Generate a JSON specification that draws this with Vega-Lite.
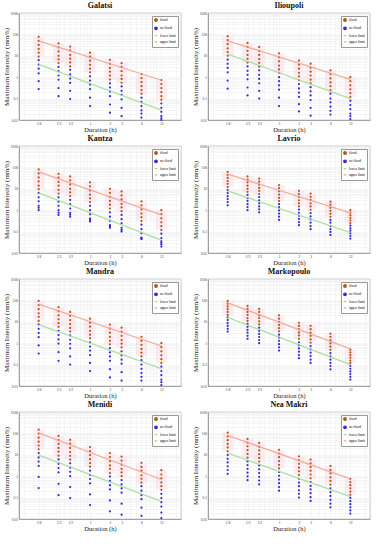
{
"$schema":"https://vega.github.io/schema/vega-lite/v6.json",
"background":"white",
"padding":{"left":2,"top":1,"right":2,"bottom":0},
"data":{"values":[
{"s":"Galatsi","d":0.1667,"v":77,"c":"f"},{"s":"Galatsi","d":0.1667,"v":50,"c":"f"},{"s":"Galatsi","d":0.1667,"v":32,"c":"f"},{"s":"Galatsi","d":0.1667,"v":21,"c":"f"},{"s":"Galatsi","d":0.1667,"v":14,"c":"f"},{"s":"Galatsi","d":0.1667,"v":9.2,"c":"f"},{"s":"Galatsi","d":0.1667,"v":6.2,"c":"n"},{"s":"Galatsi","d":0.1667,"v":3.9,"c":"n"},{"s":"Galatsi","d":0.1667,"v":2.5,"c":"n"},{"s":"Galatsi","d":0.1667,"v":1.5,"c":"n"},{"s":"Galatsi","d":0.1667,"v":0.65,"c":"n"},{"s":"Galatsi","d":0.1667,"v":0.28,"c":"n"},
{"s":"Galatsi","d":0.3333,"v":38,"c":"f"},{"s":"Galatsi","d":0.3333,"v":25,"c":"f"},{"s":"Galatsi","d":0.3333,"v":16,"c":"f"},{"s":"Galatsi","d":0.3333,"v":10,"c":"f"},{"s":"Galatsi","d":0.3333,"v":6.8,"c":"f"},{"s":"Galatsi","d":0.3333,"v":4.6,"c":"f"},{"s":"Galatsi","d":0.3333,"v":3.0,"c":"n"},{"s":"Galatsi","d":0.3333,"v":1.9,"c":"n"},{"s":"Galatsi","d":0.3333,"v":1.2,"c":"n"},{"s":"Galatsi","d":0.3333,"v":0.76,"c":"n"},{"s":"Galatsi","d":0.3333,"v":0.31,"c":"n"},{"s":"Galatsi","d":0.3333,"v":0.13,"c":"n"},
{"s":"Galatsi","d":0.5,"v":27,"c":"f"},{"s":"Galatsi","d":0.5,"v":18,"c":"f"},{"s":"Galatsi","d":0.5,"v":11,"c":"f"},{"s":"Galatsi","d":0.5,"v":7.3,"c":"f"},{"s":"Galatsi","d":0.5,"v":4.9,"c":"f"},{"s":"Galatsi","d":0.5,"v":3.2,"c":"f"},{"s":"Galatsi","d":0.5,"v":2.2,"c":"n"},{"s":"Galatsi","d":0.5,"v":1.35,"c":"n"},{"s":"Galatsi","d":0.5,"v":0.86,"c":"n"},{"s":"Galatsi","d":0.5,"v":0.54,"c":"n"},{"s":"Galatsi","d":0.5,"v":0.23,"c":"n"},{"s":"Galatsi","d":0.5,"v":0.095,"c":"n"},
{"s":"Galatsi","d":1,"v":14,"c":"f"},{"s":"Galatsi","d":1,"v":9.1,"c":"f"},{"s":"Galatsi","d":1,"v":5.9,"c":"f"},{"s":"Galatsi","d":1,"v":3.8,"c":"f"},{"s":"Galatsi","d":1,"v":2.5,"c":"f"},{"s":"Galatsi","d":1,"v":1.7,"c":"f"},{"s":"Galatsi","d":1,"v":1.1,"c":"n"},{"s":"Galatsi","d":1,"v":0.7,"c":"n"},{"s":"Galatsi","d":1,"v":0.45,"c":"n"},{"s":"Galatsi","d":1,"v":0.28,"c":"n"},{"s":"Galatsi","d":1,"v":0.11,"c":"n"},{"s":"Galatsi","d":1,"v":0.045,"c":"n"},
{"s":"Galatsi","d":2,"v":6.5,"c":"f"},{"s":"Galatsi","d":2,"v":4.2,"c":"f"},{"s":"Galatsi","d":2,"v":2.7,"c":"f"},{"s":"Galatsi","d":2,"v":1.8,"c":"f"},{"s":"Galatsi","d":2,"v":1.2,"c":"f"},{"s":"Galatsi","d":2,"v":0.78,"c":"f"},{"s":"Galatsi","d":2,"v":0.52,"c":"n"},{"s":"Galatsi","d":2,"v":0.33,"c":"n"},{"s":"Galatsi","d":2,"v":0.21,"c":"n"},{"s":"Galatsi","d":2,"v":0.13,"c":"n"},{"s":"Galatsi","d":2,"v":0.053,"c":"n"},{"s":"Galatsi","d":2,"v":0.022,"c":"n"},
{"s":"Galatsi","d":3,"v":4.6,"c":"f"},{"s":"Galatsi","d":3,"v":3.0,"c":"f"},{"s":"Galatsi","d":3,"v":1.9,"c":"f"},{"s":"Galatsi","d":3,"v":1.2,"c":"f"},{"s":"Galatsi","d":3,"v":0.83,"c":"f"},{"s":"Galatsi","d":3,"v":0.55,"c":"f"},{"s":"Galatsi","d":3,"v":0.37,"c":"n"},{"s":"Galatsi","d":3,"v":0.23,"c":"n"},{"s":"Galatsi","d":3,"v":0.15,"c":"n"},{"s":"Galatsi","d":3,"v":0.092,"c":"n"},{"s":"Galatsi","d":3,"v":0.037,"c":"n"},{"s":"Galatsi","d":3,"v":0.015,"c":"n"},
{"s":"Galatsi","d":6,"v":1.4,"c":"f"},{"s":"Galatsi","d":6,"v":0.91,"c":"f"},{"s":"Galatsi","d":6,"v":0.59,"c":"f"},{"s":"Galatsi","d":6,"v":0.38,"c":"f"},{"s":"Galatsi","d":6,"v":0.25,"c":"f"},{"s":"Galatsi","d":6,"v":0.17,"c":"f"},{"s":"Galatsi","d":6,"v":0.11,"c":"n"},{"s":"Galatsi","d":6,"v":0.07,"c":"n"},{"s":"Galatsi","d":6,"v":0.045,"c":"n"},{"s":"Galatsi","d":6,"v":0.028,"c":"n"},{"s":"Galatsi","d":6,"v":0.02,"c":"n"},{"s":"Galatsi","d":6,"v":0.013,"c":"n"},
{"s":"Galatsi","d":12,"v":0.74,"c":"f"},{"s":"Galatsi","d":12,"v":0.48,"c":"f"},{"s":"Galatsi","d":12,"v":0.31,"c":"f"},{"s":"Galatsi","d":12,"v":0.2,"c":"f"},{"s":"Galatsi","d":12,"v":0.13,"c":"f"},{"s":"Galatsi","d":12,"v":0.089,"c":"f"},{"s":"Galatsi","d":12,"v":0.059,"c":"n"},{"s":"Galatsi","d":12,"v":0.037,"c":"n"},{"s":"Galatsi","d":12,"v":0.024,"c":"n"},{"s":"Galatsi","d":12,"v":0.015,"c":"n"},{"s":"Galatsi","d":12,"v":0.012,"c":"n"},{"s":"Galatsi","d":12,"v":0.01,"c":"n"},
{"s":"Ilioupoli","d":0.1667,"v":83,"c":"f"},{"s":"Ilioupoli","d":0.1667,"v":54,"c":"f"},{"s":"Ilioupoli","d":0.1667,"v":35,"c":"f"},{"s":"Ilioupoli","d":0.1667,"v":22,"c":"f"},{"s":"Ilioupoli","d":0.1667,"v":15,"c":"f"},{"s":"Ilioupoli","d":0.1667,"v":10,"c":"f"},{"s":"Ilioupoli","d":0.1667,"v":6.6,"c":"n"},{"s":"Ilioupoli","d":0.1667,"v":4.2,"c":"n"},{"s":"Ilioupoli","d":0.1667,"v":2.7,"c":"n"},{"s":"Ilioupoli","d":0.1667,"v":1.7,"c":"n"},{"s":"Ilioupoli","d":0.1667,"v":0.7,"c":"n"},{"s":"Ilioupoli","d":0.1667,"v":0.29,"c":"n"},
{"s":"Ilioupoli","d":0.3333,"v":40,"c":"f"},{"s":"Ilioupoli","d":0.3333,"v":26,"c":"f"},{"s":"Ilioupoli","d":0.3333,"v":17,"c":"f"},{"s":"Ilioupoli","d":0.3333,"v":11,"c":"f"},{"s":"Ilioupoli","d":0.3333,"v":7.2,"c":"f"},{"s":"Ilioupoli","d":0.3333,"v":4.8,"c":"f"},{"s":"Ilioupoli","d":0.3333,"v":3.2,"c":"n"},{"s":"Ilioupoli","d":0.3333,"v":2.0,"c":"n"},{"s":"Ilioupoli","d":0.3333,"v":1.3,"c":"n"},{"s":"Ilioupoli","d":0.3333,"v":0.8,"c":"n"},{"s":"Ilioupoli","d":0.3333,"v":0.33,"c":"n"},{"s":"Ilioupoli","d":0.3333,"v":0.14,"c":"n"},
{"s":"Ilioupoli","d":0.5,"v":26,"c":"f"},{"s":"Ilioupoli","d":0.5,"v":17,"c":"f"},{"s":"Ilioupoli","d":0.5,"v":11,"c":"f"},{"s":"Ilioupoli","d":0.5,"v":7.0,"c":"f"},{"s":"Ilioupoli","d":0.5,"v":4.7,"c":"f"},{"s":"Ilioupoli","d":0.5,"v":3.1,"c":"f"},{"s":"Ilioupoli","d":0.5,"v":2.1,"c":"n"},{"s":"Ilioupoli","d":0.5,"v":1.3,"c":"n"},{"s":"Ilioupoli","d":0.5,"v":0.83,"c":"n"},{"s":"Ilioupoli","d":0.5,"v":0.52,"c":"n"},{"s":"Ilioupoli","d":0.5,"v":0.23,"c":"n"},{"s":"Ilioupoli","d":0.5,"v":0.1,"c":"n"},
{"s":"Ilioupoli","d":1,"v":13,"c":"f"},{"s":"Ilioupoli","d":1,"v":8.5,"c":"f"},{"s":"Ilioupoli","d":1,"v":5.5,"c":"f"},{"s":"Ilioupoli","d":1,"v":3.5,"c":"f"},{"s":"Ilioupoli","d":1,"v":2.3,"c":"f"},{"s":"Ilioupoli","d":1,"v":1.6,"c":"f"},{"s":"Ilioupoli","d":1,"v":1.0,"c":"n"},{"s":"Ilioupoli","d":1,"v":0.65,"c":"n"},{"s":"Ilioupoli","d":1,"v":0.42,"c":"n"},{"s":"Ilioupoli","d":1,"v":0.26,"c":"n"},{"s":"Ilioupoli","d":1,"v":0.11,"c":"n"},{"s":"Ilioupoli","d":1,"v":0.045,"c":"n"},
{"s":"Ilioupoli","d":2,"v":6,"c":"f"},{"s":"Ilioupoli","d":2,"v":3.9,"c":"f"},{"s":"Ilioupoli","d":2,"v":2.5,"c":"f"},{"s":"Ilioupoli","d":2,"v":1.6,"c":"f"},{"s":"Ilioupoli","d":2,"v":1.1,"c":"f"},{"s":"Ilioupoli","d":2,"v":0.72,"c":"f"},{"s":"Ilioupoli","d":2,"v":0.48,"c":"n"},{"s":"Ilioupoli","d":2,"v":0.3,"c":"n"},{"s":"Ilioupoli","d":2,"v":0.19,"c":"n"},{"s":"Ilioupoli","d":2,"v":0.12,"c":"n"},{"s":"Ilioupoli","d":2,"v":0.055,"c":"n"},{"s":"Ilioupoli","d":2,"v":0.025,"c":"n"},
{"s":"Ilioupoli","d":3,"v":4.3,"c":"f"},{"s":"Ilioupoli","d":3,"v":2.8,"c":"f"},{"s":"Ilioupoli","d":3,"v":1.8,"c":"f"},{"s":"Ilioupoli","d":3,"v":1.2,"c":"f"},{"s":"Ilioupoli","d":3,"v":0.77,"c":"f"},{"s":"Ilioupoli","d":3,"v":0.52,"c":"f"},{"s":"Ilioupoli","d":3,"v":0.34,"c":"n"},{"s":"Ilioupoli","d":3,"v":0.22,"c":"n"},{"s":"Ilioupoli","d":3,"v":0.14,"c":"n"},{"s":"Ilioupoli","d":3,"v":0.086,"c":"n"},{"s":"Ilioupoli","d":3,"v":0.037,"c":"n"},{"s":"Ilioupoli","d":3,"v":0.016,"c":"n"},
{"s":"Ilioupoli","d":6,"v":2.1,"c":"f"},{"s":"Ilioupoli","d":6,"v":1.4,"c":"f"},{"s":"Ilioupoli","d":6,"v":0.88,"c":"f"},{"s":"Ilioupoli","d":6,"v":0.57,"c":"f"},{"s":"Ilioupoli","d":6,"v":0.38,"c":"f"},{"s":"Ilioupoli","d":6,"v":0.25,"c":"f"},{"s":"Ilioupoli","d":6,"v":0.17,"c":"n"},{"s":"Ilioupoli","d":6,"v":0.1,"c":"n"},{"s":"Ilioupoli","d":6,"v":0.067,"c":"n"},{"s":"Ilioupoli","d":6,"v":0.042,"c":"n"},{"s":"Ilioupoli","d":6,"v":0.027,"c":"n"},{"s":"Ilioupoli","d":6,"v":0.018,"c":"n"},
{"s":"Ilioupoli","d":12,"v":1.0,"c":"f"},{"s":"Ilioupoli","d":12,"v":0.65,"c":"f"},{"s":"Ilioupoli","d":12,"v":0.42,"c":"f"},{"s":"Ilioupoli","d":12,"v":0.27,"c":"f"},{"s":"Ilioupoli","d":12,"v":0.18,"c":"f"},{"s":"Ilioupoli","d":12,"v":0.12,"c":"f"},{"s":"Ilioupoli","d":12,"v":0.08,"c":"n"},{"s":"Ilioupoli","d":12,"v":0.05,"c":"n"},{"s":"Ilioupoli","d":12,"v":0.032,"c":"n"},{"s":"Ilioupoli","d":12,"v":0.02,"c":"n"},{"s":"Ilioupoli","d":12,"v":0.015,"c":"n"},{"s":"Ilioupoli","d":12,"v":0.011,"c":"n"},
{"s":"Kantza","d":0.1667,"v":80,"c":"f"},{"s":"Kantza","d":0.1667,"v":52,"c":"f"},{"s":"Kantza","d":0.1667,"v":34,"c":"f"},{"s":"Kantza","d":0.1667,"v":22,"c":"f"},{"s":"Kantza","d":0.1667,"v":14,"c":"f"},{"s":"Kantza","d":0.1667,"v":9.6,"c":"f"},{"s":"Kantza","d":0.1667,"v":6.4,"c":"n"},{"s":"Kantza","d":0.1667,"v":4.0,"c":"n"},{"s":"Kantza","d":0.1667,"v":2.6,"c":"n"},{"s":"Kantza","d":0.1667,"v":1.6,"c":"n"},{"s":"Kantza","d":0.1667,"v":1.3,"c":"n"},{"s":"Kantza","d":0.1667,"v":1.0,"c":"n"},
{"s":"Kantza","d":0.3333,"v":50,"c":"f"},{"s":"Kantza","d":0.3333,"v":33,"c":"f"},{"s":"Kantza","d":0.3333,"v":21,"c":"f"},{"s":"Kantza","d":0.3333,"v":14,"c":"f"},{"s":"Kantza","d":0.3333,"v":9,"c":"f"},{"s":"Kantza","d":0.3333,"v":6,"c":"f"},{"s":"Kantza","d":0.3333,"v":4,"c":"n"},{"s":"Kantza","d":0.3333,"v":2.5,"c":"n"},{"s":"Kantza","d":0.3333,"v":1.6,"c":"n"},{"s":"Kantza","d":0.3333,"v":1.0,"c":"n"},{"s":"Kantza","d":0.3333,"v":0.77,"c":"n"},{"s":"Kantza","d":0.3333,"v":0.6,"c":"n"},
{"s":"Kantza","d":0.5,"v":38,"c":"f"},{"s":"Kantza","d":0.5,"v":25,"c":"f"},{"s":"Kantza","d":0.5,"v":16,"c":"f"},{"s":"Kantza","d":0.5,"v":10,"c":"f"},{"s":"Kantza","d":0.5,"v":6.8,"c":"f"},{"s":"Kantza","d":0.5,"v":4.6,"c":"f"},{"s":"Kantza","d":0.5,"v":3.0,"c":"n"},{"s":"Kantza","d":0.5,"v":1.9,"c":"n"},{"s":"Kantza","d":0.5,"v":1.2,"c":"n"},{"s":"Kantza","d":0.5,"v":0.76,"c":"n"},{"s":"Kantza","d":0.5,"v":0.62,"c":"n"},{"s":"Kantza","d":0.5,"v":0.5,"c":"n"},
{"s":"Kantza","d":1,"v":20,"c":"f"},{"s":"Kantza","d":1,"v":13,"c":"f"},{"s":"Kantza","d":1,"v":8.4,"c":"f"},{"s":"Kantza","d":1,"v":5.4,"c":"f"},{"s":"Kantza","d":1,"v":3.6,"c":"f"},{"s":"Kantza","d":1,"v":2.4,"c":"f"},{"s":"Kantza","d":1,"v":1.6,"c":"n"},{"s":"Kantza","d":1,"v":1.0,"c":"n"},{"s":"Kantza","d":1,"v":0.64,"c":"n"},{"s":"Kantza","d":1,"v":0.4,"c":"n"},{"s":"Kantza","d":1,"v":0.35,"c":"n"},{"s":"Kantza","d":1,"v":0.3,"c":"n"},
{"s":"Kantza","d":2,"v":10,"c":"f"},{"s":"Kantza","d":2,"v":6.5,"c":"f"},{"s":"Kantza","d":2,"v":4.2,"c":"f"},{"s":"Kantza","d":2,"v":2.7,"c":"f"},{"s":"Kantza","d":2,"v":1.8,"c":"f"},{"s":"Kantza","d":2,"v":1.2,"c":"f"},{"s":"Kantza","d":2,"v":0.8,"c":"n"},{"s":"Kantza","d":2,"v":0.5,"c":"n"},{"s":"Kantza","d":2,"v":0.32,"c":"n"},{"s":"Kantza","d":2,"v":0.2,"c":"n"},{"s":"Kantza","d":2,"v":0.17,"c":"n"},{"s":"Kantza","d":2,"v":0.15,"c":"n"},
{"s":"Kantza","d":3,"v":7.5,"c":"f"},{"s":"Kantza","d":3,"v":4.9,"c":"f"},{"s":"Kantza","d":3,"v":3.2,"c":"f"},{"s":"Kantza","d":3,"v":2.0,"c":"f"},{"s":"Kantza","d":3,"v":1.35,"c":"f"},{"s":"Kantza","d":3,"v":0.9,"c":"f"},{"s":"Kantza","d":3,"v":0.6,"c":"n"},{"s":"Kantza","d":3,"v":0.38,"c":"n"},{"s":"Kantza","d":3,"v":0.24,"c":"n"},{"s":"Kantza","d":3,"v":0.15,"c":"n"},{"s":"Kantza","d":3,"v":0.12,"c":"n"},{"s":"Kantza","d":3,"v":0.1,"c":"n"},
{"s":"Kantza","d":6,"v":2.6,"c":"f"},{"s":"Kantza","d":6,"v":1.7,"c":"f"},{"s":"Kantza","d":6,"v":1.1,"c":"f"},{"s":"Kantza","d":6,"v":0.7,"c":"f"},{"s":"Kantza","d":6,"v":0.47,"c":"f"},{"s":"Kantza","d":6,"v":0.31,"c":"f"},{"s":"Kantza","d":6,"v":0.21,"c":"n"},{"s":"Kantza","d":6,"v":0.13,"c":"n"},{"s":"Kantza","d":6,"v":0.083,"c":"n"},{"s":"Kantza","d":6,"v":0.052,"c":"n"},{"s":"Kantza","d":6,"v":0.048,"c":"n"},{"s":"Kantza","d":6,"v":0.045,"c":"n"},
{"s":"Kantza","d":12,"v":1.0,"c":"f"},{"s":"Kantza","d":12,"v":0.65,"c":"f"},{"s":"Kantza","d":12,"v":0.42,"c":"f"},{"s":"Kantza","d":12,"v":0.27,"c":"f"},{"s":"Kantza","d":12,"v":0.18,"c":"f"},{"s":"Kantza","d":12,"v":0.12,"c":"f"},{"s":"Kantza","d":12,"v":0.08,"c":"n"},{"s":"Kantza","d":12,"v":0.05,"c":"n"},{"s":"Kantza","d":12,"v":0.036,"c":"n"},{"s":"Kantza","d":12,"v":0.03,"c":"n"},{"s":"Kantza","d":12,"v":0.025,"c":"n"},{"s":"Kantza","d":12,"v":0.02,"c":"n"},
{"s":"Lavrio","d":0.1667,"v":62,"c":"f"},{"s":"Lavrio","d":0.1667,"v":45,"c":"f"},{"s":"Lavrio","d":0.1667,"v":32,"c":"f"},{"s":"Lavrio","d":0.1667,"v":23,"c":"f"},{"s":"Lavrio","d":0.1667,"v":17,"c":"f"},{"s":"Lavrio","d":0.1667,"v":12,"c":"f"},{"s":"Lavrio","d":0.1667,"v":8.7,"c":"n"},{"s":"Lavrio","d":0.1667,"v":6.3,"c":"n"},{"s":"Lavrio","d":0.1667,"v":4.5,"c":"n"},{"s":"Lavrio","d":0.1667,"v":3.3,"c":"n"},{"s":"Lavrio","d":0.1667,"v":2.4,"c":"n"},{"s":"Lavrio","d":0.1667,"v":1.7,"c":"n"},
{"s":"Lavrio","d":0.3333,"v":38,"c":"f"},{"s":"Lavrio","d":0.3333,"v":27,"c":"f"},{"s":"Lavrio","d":0.3333,"v":20,"c":"f"},{"s":"Lavrio","d":0.3333,"v":14,"c":"f"},{"s":"Lavrio","d":0.3333,"v":10,"c":"f"},{"s":"Lavrio","d":0.3333,"v":7.2,"c":"f"},{"s":"Lavrio","d":0.3333,"v":5.2,"c":"n"},{"s":"Lavrio","d":0.3333,"v":3.7,"c":"n"},{"s":"Lavrio","d":0.3333,"v":2.7,"c":"n"},{"s":"Lavrio","d":0.3333,"v":1.9,"c":"n"},{"s":"Lavrio","d":0.3333,"v":1.4,"c":"n"},{"s":"Lavrio","d":0.3333,"v":1.0,"c":"n"},
{"s":"Lavrio","d":0.5,"v":30,"c":"f"},{"s":"Lavrio","d":0.5,"v":21.5,"c":"f"},{"s":"Lavrio","d":0.5,"v":15.5,"c":"f"},{"s":"Lavrio","d":0.5,"v":11,"c":"f"},{"s":"Lavrio","d":0.5,"v":8,"c":"f"},{"s":"Lavrio","d":0.5,"v":5.7,"c":"f"},{"s":"Lavrio","d":0.5,"v":4.1,"c":"n"},{"s":"Lavrio","d":0.5,"v":2.9,"c":"n"},{"s":"Lavrio","d":0.5,"v":2.1,"c":"n"},{"s":"Lavrio","d":0.5,"v":1.5,"c":"n"},{"s":"Lavrio","d":0.5,"v":1.1,"c":"n"},{"s":"Lavrio","d":0.5,"v":0.8,"c":"n"},
{"s":"Lavrio","d":1,"v":15,"c":"f"},{"s":"Lavrio","d":1,"v":10.7,"c":"f"},{"s":"Lavrio","d":1,"v":7.6,"c":"f"},{"s":"Lavrio","d":1,"v":5.4,"c":"f"},{"s":"Lavrio","d":1,"v":3.8,"c":"f"},{"s":"Lavrio","d":1,"v":2.7,"c":"f"},{"s":"Lavrio","d":1,"v":1.9,"c":"n"},{"s":"Lavrio","d":1,"v":1.4,"c":"n"},{"s":"Lavrio","d":1,"v":0.98,"c":"n"},{"s":"Lavrio","d":1,"v":0.7,"c":"n"},{"s":"Lavrio","d":1,"v":0.5,"c":"n"},{"s":"Lavrio","d":1,"v":0.35,"c":"n"},
{"s":"Lavrio","d":2,"v":8,"c":"f"},{"s":"Lavrio","d":2,"v":5.7,"c":"f"},{"s":"Lavrio","d":2,"v":4.1,"c":"f"},{"s":"Lavrio","d":2,"v":2.9,"c":"f"},{"s":"Lavrio","d":2,"v":2.1,"c":"f"},{"s":"Lavrio","d":2,"v":1.5,"c":"f"},{"s":"Lavrio","d":2,"v":1.07,"c":"n"},{"s":"Lavrio","d":2,"v":0.76,"c":"n"},{"s":"Lavrio","d":2,"v":0.55,"c":"n"},{"s":"Lavrio","d":2,"v":0.39,"c":"n"},{"s":"Lavrio","d":2,"v":0.28,"c":"n"},{"s":"Lavrio","d":2,"v":0.2,"c":"n"},
{"s":"Lavrio","d":3,"v":6,"c":"f"},{"s":"Lavrio","d":3,"v":4.2,"c":"f"},{"s":"Lavrio","d":3,"v":3.0,"c":"f"},{"s":"Lavrio","d":3,"v":2.1,"c":"f"},{"s":"Lavrio","d":3,"v":1.5,"c":"f"},{"s":"Lavrio","d":3,"v":1.05,"c":"f"},{"s":"Lavrio","d":3,"v":0.74,"c":"n"},{"s":"Lavrio","d":3,"v":0.52,"c":"n"},{"s":"Lavrio","d":3,"v":0.37,"c":"n"},{"s":"Lavrio","d":3,"v":0.26,"c":"n"},{"s":"Lavrio","d":3,"v":0.18,"c":"n"},{"s":"Lavrio","d":3,"v":0.13,"c":"n"},
{"s":"Lavrio","d":6,"v":2.5,"c":"f"},{"s":"Lavrio","d":6,"v":1.8,"c":"f"},{"s":"Lavrio","d":6,"v":1.3,"c":"f"},{"s":"Lavrio","d":6,"v":0.94,"c":"f"},{"s":"Lavrio","d":6,"v":0.68,"c":"f"},{"s":"Lavrio","d":6,"v":0.49,"c":"f"},{"s":"Lavrio","d":6,"v":0.35,"c":"n"},{"s":"Lavrio","d":6,"v":0.26,"c":"n"},{"s":"Lavrio","d":6,"v":0.18,"c":"n"},{"s":"Lavrio","d":6,"v":0.13,"c":"n"},{"s":"Lavrio","d":6,"v":0.097,"c":"n"},{"s":"Lavrio","d":6,"v":0.07,"c":"n"},
{"s":"Lavrio","d":12,"v":1.0,"c":"f"},{"s":"Lavrio","d":12,"v":0.76,"c":"f"},{"s":"Lavrio","d":12,"v":0.57,"c":"f"},{"s":"Lavrio","d":12,"v":0.43,"c":"f"},{"s":"Lavrio","d":12,"v":0.33,"c":"f"},{"s":"Lavrio","d":12,"v":0.25,"c":"f"},{"s":"Lavrio","d":12,"v":0.19,"c":"n"},{"s":"Lavrio","d":12,"v":0.14,"c":"n"},{"s":"Lavrio","d":12,"v":0.11,"c":"n"},{"s":"Lavrio","d":12,"v":0.082,"c":"n"},{"s":"Lavrio","d":12,"v":0.062,"c":"n"},{"s":"Lavrio","d":12,"v":0.047,"c":"n"},
{"s":"Mandra","d":0.1667,"v":94,"c":"f"},{"s":"Mandra","d":0.1667,"v":61,"c":"f"},{"s":"Mandra","d":0.1667,"v":39,"c":"f"},{"s":"Mandra","d":0.1667,"v":25,"c":"f"},{"s":"Mandra","d":0.1667,"v":17,"c":"f"},{"s":"Mandra","d":0.1667,"v":11,"c":"f"},{"s":"Mandra","d":0.1667,"v":7.5,"c":"n"},{"s":"Mandra","d":0.1667,"v":4.7,"c":"n"},{"s":"Mandra","d":0.1667,"v":3.0,"c":"n"},{"s":"Mandra","d":0.1667,"v":1.9,"c":"n"},{"s":"Mandra","d":0.1667,"v":0.79,"c":"n"},{"s":"Mandra","d":0.1667,"v":0.33,"c":"n"},
{"s":"Mandra","d":0.3333,"v":48,"c":"f"},{"s":"Mandra","d":0.3333,"v":31,"c":"f"},{"s":"Mandra","d":0.3333,"v":20,"c":"f"},{"s":"Mandra","d":0.3333,"v":13,"c":"f"},{"s":"Mandra","d":0.3333,"v":8.6,"c":"f"},{"s":"Mandra","d":0.3333,"v":5.8,"c":"f"},{"s":"Mandra","d":0.3333,"v":3.8,"c":"n"},{"s":"Mandra","d":0.3333,"v":2.4,"c":"n"},{"s":"Mandra","d":0.3333,"v":1.5,"c":"n"},{"s":"Mandra","d":0.3333,"v":0.96,"c":"n"},{"s":"Mandra","d":0.3333,"v":0.38,"c":"n"},{"s":"Mandra","d":0.3333,"v":0.15,"c":"n"},
{"s":"Mandra","d":0.5,"v":29,"c":"f"},{"s":"Mandra","d":0.5,"v":19,"c":"f"},{"s":"Mandra","d":0.5,"v":12,"c":"f"},{"s":"Mandra","d":0.5,"v":7.8,"c":"f"},{"s":"Mandra","d":0.5,"v":5.2,"c":"f"},{"s":"Mandra","d":0.5,"v":3.5,"c":"f"},{"s":"Mandra","d":0.5,"v":2.3,"c":"n"},{"s":"Mandra","d":0.5,"v":1.45,"c":"n"},{"s":"Mandra","d":0.5,"v":0.93,"c":"n"},{"s":"Mandra","d":0.5,"v":0.58,"c":"n"},{"s":"Mandra","d":0.5,"v":0.24,"c":"n"},{"s":"Mandra","d":0.5,"v":0.1,"c":"n"},
{"s":"Mandra","d":1,"v":14,"c":"f"},{"s":"Mandra","d":1,"v":9.1,"c":"f"},{"s":"Mandra","d":1,"v":5.9,"c":"f"},{"s":"Mandra","d":1,"v":3.8,"c":"f"},{"s":"Mandra","d":1,"v":2.5,"c":"f"},{"s":"Mandra","d":1,"v":1.7,"c":"f"},{"s":"Mandra","d":1,"v":1.1,"c":"n"},{"s":"Mandra","d":1,"v":0.7,"c":"n"},{"s":"Mandra","d":1,"v":0.45,"c":"n"},{"s":"Mandra","d":1,"v":0.28,"c":"n"},{"s":"Mandra","d":1,"v":0.12,"c":"n"},{"s":"Mandra","d":1,"v":0.05,"c":"n"},
{"s":"Mandra","d":2,"v":7.4,"c":"f"},{"s":"Mandra","d":2,"v":4.8,"c":"f"},{"s":"Mandra","d":2,"v":3.1,"c":"f"},{"s":"Mandra","d":2,"v":2.0,"c":"f"},{"s":"Mandra","d":2,"v":1.3,"c":"f"},{"s":"Mandra","d":2,"v":0.89,"c":"f"},{"s":"Mandra","d":2,"v":0.59,"c":"n"},{"s":"Mandra","d":2,"v":0.37,"c":"n"},{"s":"Mandra","d":2,"v":0.24,"c":"n"},{"s":"Mandra","d":2,"v":0.15,"c":"n"},{"s":"Mandra","d":2,"v":0.061,"c":"n"},{"s":"Mandra","d":2,"v":0.025,"c":"n"},
{"s":"Mandra","d":3,"v":5.3,"c":"f"},{"s":"Mandra","d":3,"v":3.4,"c":"f"},{"s":"Mandra","d":3,"v":2.2,"c":"f"},{"s":"Mandra","d":3,"v":1.4,"c":"f"},{"s":"Mandra","d":3,"v":0.95,"c":"f"},{"s":"Mandra","d":3,"v":0.64,"c":"f"},{"s":"Mandra","d":3,"v":0.42,"c":"n"},{"s":"Mandra","d":3,"v":0.27,"c":"n"},{"s":"Mandra","d":3,"v":0.17,"c":"n"},{"s":"Mandra","d":3,"v":0.11,"c":"n"},{"s":"Mandra","d":3,"v":0.044,"c":"n"},{"s":"Mandra","d":3,"v":0.018,"c":"n"},
{"s":"Mandra","d":6,"v":2.0,"c":"f"},{"s":"Mandra","d":6,"v":1.3,"c":"f"},{"s":"Mandra","d":6,"v":0.84,"c":"f"},{"s":"Mandra","d":6,"v":0.54,"c":"f"},{"s":"Mandra","d":6,"v":0.36,"c":"f"},{"s":"Mandra","d":6,"v":0.24,"c":"f"},{"s":"Mandra","d":6,"v":0.16,"c":"n"},{"s":"Mandra","d":6,"v":0.1,"c":"n"},{"s":"Mandra","d":6,"v":0.064,"c":"n"},{"s":"Mandra","d":6,"v":0.04,"c":"n"},{"s":"Mandra","d":6,"v":0.027,"c":"n"},{"s":"Mandra","d":6,"v":0.018,"c":"n"},
{"s":"Mandra","d":12,"v":1.0,"c":"f"},{"s":"Mandra","d":12,"v":0.65,"c":"f"},{"s":"Mandra","d":12,"v":0.42,"c":"f"},{"s":"Mandra","d":12,"v":0.27,"c":"f"},{"s":"Mandra","d":12,"v":0.18,"c":"f"},{"s":"Mandra","d":12,"v":0.12,"c":"f"},{"s":"Mandra","d":12,"v":0.08,"c":"n"},{"s":"Mandra","d":12,"v":0.05,"c":"n"},{"s":"Mandra","d":12,"v":0.032,"c":"n"},{"s":"Mandra","d":12,"v":0.02,"c":"n"},{"s":"Mandra","d":12,"v":0.015,"c":"n"},{"s":"Mandra","d":12,"v":0.011,"c":"n"},
{"s":"Markopoulo","d":0.1667,"v":95,"c":"f"},{"s":"Markopoulo","d":0.1667,"v":70,"c":"f"},{"s":"Markopoulo","d":0.1667,"v":52,"c":"f"},{"s":"Markopoulo","d":0.1667,"v":39,"c":"f"},{"s":"Markopoulo","d":0.1667,"v":29,"c":"f"},{"s":"Markopoulo","d":0.1667,"v":21,"c":"f"},{"s":"Markopoulo","d":0.1667,"v":16,"c":"n"},{"s":"Markopoulo","d":0.1667,"v":12,"c":"n"},{"s":"Markopoulo","d":0.1667,"v":8.6,"c":"n"},{"s":"Markopoulo","d":0.1667,"v":6.4,"c":"n"},{"s":"Markopoulo","d":0.1667,"v":4.7,"c":"n"},{"s":"Markopoulo","d":0.1667,"v":3.5,"c":"n"},
{"s":"Markopoulo","d":0.3333,"v":55,"c":"f"},{"s":"Markopoulo","d":0.3333,"v":40,"c":"f"},{"s":"Markopoulo","d":0.3333,"v":29,"c":"f"},{"s":"Markopoulo","d":0.3333,"v":21,"c":"f"},{"s":"Markopoulo","d":0.3333,"v":15,"c":"f"},{"s":"Markopoulo","d":0.3333,"v":11,"c":"f"},{"s":"Markopoulo","d":0.3333,"v":8.1,"c":"n"},{"s":"Markopoulo","d":0.3333,"v":5.8,"c":"n"},{"s":"Markopoulo","d":0.3333,"v":4.2,"c":"n"},{"s":"Markopoulo","d":0.3333,"v":3.1,"c":"n"},{"s":"Markopoulo","d":0.3333,"v":2.2,"c":"n"},{"s":"Markopoulo","d":0.3333,"v":1.6,"c":"n"},
{"s":"Markopoulo","d":0.5,"v":40,"c":"f"},{"s":"Markopoulo","d":0.5,"v":29,"c":"f"},{"s":"Markopoulo","d":0.5,"v":20,"c":"f"},{"s":"Markopoulo","d":0.5,"v":15,"c":"f"},{"s":"Markopoulo","d":0.5,"v":10.5,"c":"f"},{"s":"Markopoulo","d":0.5,"v":7.5,"c":"f"},{"s":"Markopoulo","d":0.5,"v":5.3,"c":"n"},{"s":"Markopoulo","d":0.5,"v":3.8,"c":"n"},{"s":"Markopoulo","d":0.5,"v":2.7,"c":"n"},{"s":"Markopoulo","d":0.5,"v":1.95,"c":"n"},{"s":"Markopoulo","d":0.5,"v":1.4,"c":"n"},{"s":"Markopoulo","d":0.5,"v":1.0,"c":"n"},
{"s":"Markopoulo","d":1,"v":20,"c":"f"},{"s":"Markopoulo","d":1,"v":14,"c":"f"},{"s":"Markopoulo","d":1,"v":10,"c":"f"},{"s":"Markopoulo","d":1,"v":7.1,"c":"f"},{"s":"Markopoulo","d":1,"v":5.0,"c":"f"},{"s":"Markopoulo","d":1,"v":3.6,"c":"f"},{"s":"Markopoulo","d":1,"v":2.5,"c":"n"},{"s":"Markopoulo","d":1,"v":1.8,"c":"n"},{"s":"Markopoulo","d":1,"v":1.3,"c":"n"},{"s":"Markopoulo","d":1,"v":0.9,"c":"n"},{"s":"Markopoulo","d":1,"v":0.64,"c":"n"},{"s":"Markopoulo","d":1,"v":0.45,"c":"n"},
{"s":"Markopoulo","d":2,"v":9,"c":"f"},{"s":"Markopoulo","d":2,"v":6.4,"c":"f"},{"s":"Markopoulo","d":2,"v":4.5,"c":"f"},{"s":"Markopoulo","d":2,"v":3.2,"c":"f"},{"s":"Markopoulo","d":2,"v":2.3,"c":"f"},{"s":"Markopoulo","d":2,"v":1.6,"c":"f"},{"s":"Markopoulo","d":2,"v":1.1,"c":"n"},{"s":"Markopoulo","d":2,"v":0.8,"c":"n"},{"s":"Markopoulo","d":2,"v":0.57,"c":"n"},{"s":"Markopoulo","d":2,"v":0.4,"c":"n"},{"s":"Markopoulo","d":2,"v":0.28,"c":"n"},{"s":"Markopoulo","d":2,"v":0.2,"c":"n"},
{"s":"Markopoulo","d":3,"v":6.5,"c":"f"},{"s":"Markopoulo","d":3,"v":4.5,"c":"f"},{"s":"Markopoulo","d":3,"v":3.1,"c":"f"},{"s":"Markopoulo","d":3,"v":2.2,"c":"f"},{"s":"Markopoulo","d":3,"v":1.5,"c":"f"},{"s":"Markopoulo","d":3,"v":1.05,"c":"f"},{"s":"Markopoulo","d":3,"v":0.73,"c":"n"},{"s":"Markopoulo","d":3,"v":0.51,"c":"n"},{"s":"Markopoulo","d":3,"v":0.36,"c":"n"},{"s":"Markopoulo","d":3,"v":0.25,"c":"n"},{"s":"Markopoulo","d":3,"v":0.17,"c":"n"},{"s":"Markopoulo","d":3,"v":0.12,"c":"n"},
{"s":"Markopoulo","d":6,"v":2.8,"c":"f"},{"s":"Markopoulo","d":6,"v":2.0,"c":"f"},{"s":"Markopoulo","d":6,"v":1.4,"c":"f"},{"s":"Markopoulo","d":6,"v":0.98,"c":"f"},{"s":"Markopoulo","d":6,"v":0.69,"c":"f"},{"s":"Markopoulo","d":6,"v":0.49,"c":"f"},{"s":"Markopoulo","d":6,"v":0.34,"c":"n"},{"s":"Markopoulo","d":6,"v":0.24,"c":"n"},{"s":"Markopoulo","d":6,"v":0.17,"c":"n"},{"s":"Markopoulo","d":6,"v":0.12,"c":"n"},{"s":"Markopoulo","d":6,"v":0.085,"c":"n"},{"s":"Markopoulo","d":6,"v":0.06,"c":"n"},
{"s":"Markopoulo","d":12,"v":0.5,"c":"f"},{"s":"Markopoulo","d":12,"v":0.37,"c":"f"},{"s":"Markopoulo","d":12,"v":0.28,"c":"f"},{"s":"Markopoulo","d":12,"v":0.21,"c":"f"},{"s":"Markopoulo","d":12,"v":0.155,"c":"f"},{"s":"Markopoulo","d":12,"v":0.116,"c":"f"},{"s":"Markopoulo","d":12,"v":0.086,"c":"n"},{"s":"Markopoulo","d":12,"v":0.064,"c":"n"},{"s":"Markopoulo","d":12,"v":0.048,"c":"n"},{"s":"Markopoulo","d":12,"v":0.036,"c":"n"},{"s":"Markopoulo","d":12,"v":0.027,"c":"n"},{"s":"Markopoulo","d":12,"v":0.02,"c":"n"},
{"s":"Menidi","d":0.1667,"v":150,"c":"f"},{"s":"Menidi","d":0.1667,"v":98,"c":"f"},{"s":"Menidi","d":0.1667,"v":63,"c":"f"},{"s":"Menidi","d":0.1667,"v":41,"c":"f"},{"s":"Menidi","d":0.1667,"v":27,"c":"f"},{"s":"Menidi","d":0.1667,"v":18,"c":"f"},{"s":"Menidi","d":0.1667,"v":12,"c":"n"},{"s":"Menidi","d":0.1667,"v":7.5,"c":"n"},{"s":"Menidi","d":0.1667,"v":4.8,"c":"n"},{"s":"Menidi","d":0.1667,"v":3.0,"c":"n"},{"s":"Menidi","d":0.1667,"v":0.92,"c":"n"},{"s":"Menidi","d":0.1667,"v":0.28,"c":"n"},
{"s":"Menidi","d":0.3333,"v":76,"c":"f"},{"s":"Menidi","d":0.3333,"v":49,"c":"f"},{"s":"Menidi","d":0.3333,"v":32,"c":"f"},{"s":"Menidi","d":0.3333,"v":21,"c":"f"},{"s":"Menidi","d":0.3333,"v":14,"c":"f"},{"s":"Menidi","d":0.3333,"v":9.1,"c":"f"},{"s":"Menidi","d":0.3333,"v":6.1,"c":"n"},{"s":"Menidi","d":0.3333,"v":3.8,"c":"n"},{"s":"Menidi","d":0.3333,"v":2.4,"c":"n"},{"s":"Menidi","d":0.3333,"v":1.5,"c":"n"},{"s":"Menidi","d":0.3333,"v":0.44,"c":"n"},{"s":"Menidi","d":0.3333,"v":0.13,"c":"n"},
{"s":"Menidi","d":0.5,"v":50,"c":"f"},{"s":"Menidi","d":0.5,"v":33,"c":"f"},{"s":"Menidi","d":0.5,"v":21,"c":"f"},{"s":"Menidi","d":0.5,"v":13.5,"c":"f"},{"s":"Menidi","d":0.5,"v":9,"c":"f"},{"s":"Menidi","d":0.5,"v":6,"c":"f"},{"s":"Menidi","d":0.5,"v":4,"c":"n"},{"s":"Menidi","d":0.5,"v":2.5,"c":"n"},{"s":"Menidi","d":0.5,"v":1.6,"c":"n"},{"s":"Menidi","d":0.5,"v":1.0,"c":"n"},{"s":"Menidi","d":0.5,"v":0.31,"c":"n"},{"s":"Menidi","d":0.5,"v":0.095,"c":"n"},
{"s":"Menidi","d":1,"v":23,"c":"f"},{"s":"Menidi","d":1,"v":15,"c":"f"},{"s":"Menidi","d":1,"v":9.7,"c":"f"},{"s":"Menidi","d":1,"v":6.2,"c":"f"},{"s":"Menidi","d":1,"v":4.1,"c":"f"},{"s":"Menidi","d":1,"v":2.8,"c":"f"},{"s":"Menidi","d":1,"v":1.8,"c":"n"},{"s":"Menidi","d":1,"v":1.15,"c":"n"},{"s":"Menidi","d":1,"v":0.74,"c":"n"},{"s":"Menidi","d":1,"v":0.46,"c":"n"},{"s":"Menidi","d":1,"v":0.14,"c":"n"},{"s":"Menidi","d":1,"v":0.045,"c":"n"},
{"s":"Menidi","d":2,"v":12,"c":"f"},{"s":"Menidi","d":2,"v":7.8,"c":"f"},{"s":"Menidi","d":2,"v":5.0,"c":"f"},{"s":"Menidi","d":2,"v":3.2,"c":"f"},{"s":"Menidi","d":2,"v":2.2,"c":"f"},{"s":"Menidi","d":2,"v":1.4,"c":"f"},{"s":"Menidi","d":2,"v":0.96,"c":"n"},{"s":"Menidi","d":2,"v":0.6,"c":"n"},{"s":"Menidi","d":2,"v":0.38,"c":"n"},{"s":"Menidi","d":2,"v":0.24,"c":"n"},{"s":"Menidi","d":2,"v":0.074,"c":"n"},{"s":"Menidi","d":2,"v":0.023,"c":"n"},
{"s":"Menidi","d":3,"v":8.3,"c":"f"},{"s":"Menidi","d":3,"v":5.4,"c":"f"},{"s":"Menidi","d":3,"v":3.5,"c":"f"},{"s":"Menidi","d":3,"v":2.2,"c":"f"},{"s":"Menidi","d":3,"v":1.5,"c":"f"},{"s":"Menidi","d":3,"v":1.0,"c":"f"},{"s":"Menidi","d":3,"v":0.66,"c":"n"},{"s":"Menidi","d":3,"v":0.42,"c":"n"},{"s":"Menidi","d":3,"v":0.27,"c":"n"},{"s":"Menidi","d":3,"v":0.17,"c":"n"},{"s":"Menidi","d":3,"v":0.052,"c":"n"},{"s":"Menidi","d":3,"v":0.016,"c":"n"},
{"s":"Menidi","d":6,"v":4.2,"c":"f"},{"s":"Menidi","d":6,"v":2.7,"c":"f"},{"s":"Menidi","d":6,"v":1.8,"c":"f"},{"s":"Menidi","d":6,"v":1.1,"c":"f"},{"s":"Menidi","d":6,"v":0.76,"c":"f"},{"s":"Menidi","d":6,"v":0.5,"c":"f"},{"s":"Menidi","d":6,"v":0.34,"c":"n"},{"s":"Menidi","d":6,"v":0.21,"c":"n"},{"s":"Menidi","d":6,"v":0.13,"c":"n"},{"s":"Menidi","d":6,"v":0.084,"c":"n"},{"s":"Menidi","d":6,"v":0.034,"c":"n"},{"s":"Menidi","d":6,"v":0.014,"c":"n"},
{"s":"Menidi","d":12,"v":1.9,"c":"f"},{"s":"Menidi","d":12,"v":1.2,"c":"f"},{"s":"Menidi","d":12,"v":0.8,"c":"f"},{"s":"Menidi","d":12,"v":0.51,"c":"f"},{"s":"Menidi","d":12,"v":0.34,"c":"f"},{"s":"Menidi","d":12,"v":0.23,"c":"f"},{"s":"Menidi","d":12,"v":0.15,"c":"n"},{"s":"Menidi","d":12,"v":0.095,"c":"n"},{"s":"Menidi","d":12,"v":0.061,"c":"n"},{"s":"Menidi","d":12,"v":0.038,"c":"n"},{"s":"Menidi","d":12,"v":0.02,"c":"n"},{"s":"Menidi","d":12,"v":0.011,"c":"n"},
{"s":"Nea Makri","d":0.1667,"v":108,"c":"f"},{"s":"Nea Makri","d":0.1667,"v":72,"c":"f"},{"s":"Nea Makri","d":0.1667,"v":48,"c":"f"},{"s":"Nea Makri","d":0.1667,"v":32,"c":"f"},{"s":"Nea Makri","d":0.1667,"v":22,"c":"f"},{"s":"Nea Makri","d":0.1667,"v":14.5,"c":"f"},{"s":"Nea Makri","d":0.1667,"v":9.7,"c":"n"},{"s":"Nea Makri","d":0.1667,"v":6.5,"c":"n"},{"s":"Nea Makri","d":0.1667,"v":4.4,"c":"n"},{"s":"Nea Makri","d":0.1667,"v":2.9,"c":"n"},{"s":"Nea Makri","d":0.1667,"v":1.95,"c":"n"},{"s":"Nea Makri","d":0.1667,"v":1.3,"c":"n"},
{"s":"Nea Makri","d":0.3333,"v":55,"c":"f"},{"s":"Nea Makri","d":0.3333,"v":37,"c":"f"},{"s":"Nea Makri","d":0.3333,"v":25,"c":"f"},{"s":"Nea Makri","d":0.3333,"v":16.4,"c":"f"},{"s":"Nea Makri","d":0.3333,"v":11,"c":"f"},{"s":"Nea Makri","d":0.3333,"v":7.3,"c":"f"},{"s":"Nea Makri","d":0.3333,"v":4.9,"c":"n"},{"s":"Nea Makri","d":0.3333,"v":3.3,"c":"n"},{"s":"Nea Makri","d":0.3333,"v":2.2,"c":"n"},{"s":"Nea Makri","d":0.3333,"v":1.46,"c":"n"},{"s":"Nea Makri","d":0.3333,"v":0.98,"c":"n"},{"s":"Nea Makri","d":0.3333,"v":0.65,"c":"n"},
{"s":"Nea Makri","d":0.5,"v":36,"c":"f"},{"s":"Nea Makri","d":0.5,"v":24,"c":"f"},{"s":"Nea Makri","d":0.5,"v":16,"c":"f"},{"s":"Nea Makri","d":0.5,"v":10.7,"c":"f"},{"s":"Nea Makri","d":0.5,"v":7.1,"c":"f"},{"s":"Nea Makri","d":0.5,"v":4.8,"c":"f"},{"s":"Nea Makri","d":0.5,"v":3.2,"c":"n"},{"s":"Nea Makri","d":0.5,"v":2.1,"c":"n"},{"s":"Nea Makri","d":0.5,"v":1.4,"c":"n"},{"s":"Nea Makri","d":0.5,"v":0.94,"c":"n"},{"s":"Nea Makri","d":0.5,"v":0.63,"c":"n"},{"s":"Nea Makri","d":0.5,"v":0.42,"c":"n"},
{"s":"Nea Makri","d":1,"v":17,"c":"f"},{"s":"Nea Makri","d":1,"v":11.4,"c":"f"},{"s":"Nea Makri","d":1,"v":7.7,"c":"f"},{"s":"Nea Makri","d":1,"v":5.1,"c":"f"},{"s":"Nea Makri","d":1,"v":3.4,"c":"f"},{"s":"Nea Makri","d":1,"v":2.3,"c":"f"},{"s":"Nea Makri","d":1,"v":1.56,"c":"n"},{"s":"Nea Makri","d":1,"v":1.05,"c":"n"},{"s":"Nea Makri","d":1,"v":0.7,"c":"n"},{"s":"Nea Makri","d":1,"v":0.47,"c":"n"},{"s":"Nea Makri","d":1,"v":0.31,"c":"n"},{"s":"Nea Makri","d":1,"v":0.21,"c":"n"},
{"s":"Nea Makri","d":2,"v":8.5,"c":"f"},{"s":"Nea Makri","d":2,"v":5.7,"c":"f"},{"s":"Nea Makri","d":2,"v":3.8,"c":"f"},{"s":"Nea Makri","d":2,"v":2.5,"c":"f"},{"s":"Nea Makri","d":2,"v":1.7,"c":"f"},{"s":"Nea Makri","d":2,"v":1.13,"c":"f"},{"s":"Nea Makri","d":2,"v":0.76,"c":"n"},{"s":"Nea Makri","d":2,"v":0.5,"c":"n"},{"s":"Nea Makri","d":2,"v":0.34,"c":"n"},{"s":"Nea Makri","d":2,"v":0.22,"c":"n"},{"s":"Nea Makri","d":2,"v":0.15,"c":"n"},{"s":"Nea Makri","d":2,"v":0.1,"c":"n"},
{"s":"Nea Makri","d":3,"v":6,"c":"f"},{"s":"Nea Makri","d":3,"v":4.0,"c":"f"},{"s":"Nea Makri","d":3,"v":2.7,"c":"f"},{"s":"Nea Makri","d":3,"v":1.8,"c":"f"},{"s":"Nea Makri","d":3,"v":1.2,"c":"f"},{"s":"Nea Makri","d":3,"v":0.8,"c":"f"},{"s":"Nea Makri","d":3,"v":0.53,"c":"n"},{"s":"Nea Makri","d":3,"v":0.35,"c":"n"},{"s":"Nea Makri","d":3,"v":0.24,"c":"n"},{"s":"Nea Makri","d":3,"v":0.16,"c":"n"},{"s":"Nea Makri","d":3,"v":0.105,"c":"n"},{"s":"Nea Makri","d":3,"v":0.07,"c":"n"},
{"s":"Nea Makri","d":6,"v":3,"c":"f"},{"s":"Nea Makri","d":6,"v":2.0,"c":"f"},{"s":"Nea Makri","d":6,"v":1.34,"c":"f"},{"s":"Nea Makri","d":6,"v":0.89,"c":"f"},{"s":"Nea Makri","d":6,"v":0.6,"c":"f"},{"s":"Nea Makri","d":6,"v":0.4,"c":"f"},{"s":"Nea Makri","d":6,"v":0.27,"c":"n"},{"s":"Nea Makri","d":6,"v":0.18,"c":"n"},{"s":"Nea Makri","d":6,"v":0.12,"c":"n"},{"s":"Nea Makri","d":6,"v":0.078,"c":"n"},{"s":"Nea Makri","d":6,"v":0.052,"c":"n"},{"s":"Nea Makri","d":6,"v":0.035,"c":"n"},
{"s":"Nea Makri","d":12,"v":0.75,"c":"f"},{"s":"Nea Makri","d":12,"v":0.53,"c":"f"},{"s":"Nea Makri","d":12,"v":0.38,"c":"f"},{"s":"Nea Makri","d":12,"v":0.27,"c":"f"},{"s":"Nea Makri","d":12,"v":0.19,"c":"f"},{"s":"Nea Makri","d":12,"v":0.135,"c":"f"},{"s":"Nea Makri","d":12,"v":0.096,"c":"n"},{"s":"Nea Makri","d":12,"v":0.068,"c":"n"},{"s":"Nea Makri","d":12,"v":0.049,"c":"n"},{"s":"Nea Makri","d":12,"v":0.035,"c":"n"},{"s":"Nea Makri","d":12,"v":0.025,"c":"n"},{"s":"Nea Makri","d":12,"v":0.018,"c":"n"},
{"s":"Galatsi","d":0.1667,"v":50,"c":"up"},{"s":"Galatsi","d":12,"v":0.72,"c":"up"},{"s":"Galatsi","d":0.1667,"v":4,"c":"lo"},{"s":"Galatsi","d":12,"v":0.029,"c":"lo"},
{"s":"Ilioupoli","d":0.1667,"v":50,"c":"up"},{"s":"Ilioupoli","d":12,"v":0.8,"c":"up"},{"s":"Ilioupoli","d":0.1667,"v":12,"c":"lo"},{"s":"Ilioupoli","d":12,"v":0.1,"c":"lo"},
{"s":"Kantza","d":0.1667,"v":62,"c":"up"},{"s":"Kantza","d":12,"v":0.6,"c":"up"},{"s":"Kantza","d":0.1667,"v":6.5,"c":"lo"},{"s":"Kantza","d":12,"v":0.04,"c":"lo"},
{"s":"Lavrio","d":0.1667,"v":49,"c":"up"},{"s":"Lavrio","d":12,"v":0.75,"c":"up"},{"s":"Lavrio","d":0.1667,"v":8,"c":"lo"},{"s":"Lavrio","d":12,"v":0.09,"c":"lo"},
{"s":"Mandra","d":0.1667,"v":67,"c":"up"},{"s":"Mandra","d":12,"v":0.74,"c":"up"},{"s":"Mandra","d":0.1667,"v":7.4,"c":"lo"},{"s":"Mandra","d":12,"v":0.065,"c":"lo"},
{"s":"Markopoulo","d":0.1667,"v":77,"c":"up"},{"s":"Markopoulo","d":12,"v":0.54,"c":"up"},{"s":"Markopoulo","d":0.1667,"v":16,"c":"lo"},{"s":"Markopoulo","d":12,"v":0.1,"c":"lo"},
{"s":"Menidi","d":0.1667,"v":107,"c":"up"},{"s":"Menidi","d":12,"v":0.7,"c":"up"},{"s":"Menidi","d":0.1667,"v":9.7,"c":"lo"},{"s":"Menidi","d":12,"v":0.066,"c":"lo"},
{"s":"Nea Makri","d":0.1667,"v":80,"c":"up"},{"s":"Nea Makri","d":12,"v":0.75,"c":"up"},{"s":"Nea Makri","d":0.1667,"v":12,"c":"lo"},{"s":"Nea Makri","d":12,"v":0.11,"c":"lo"}
]},
"facet":{"field":"s","type":"nominal","header":{"title":null}},
"columns":2,
"spacing":{"column":9,"row":1},
"resolve":{"axis":{"x":"independent","y":"independent"},"scale":{"color":"independent","shape":"independent"}},
"spec":{
"width":162,"height":107,
"layer":[
{"transform":[{"filter":"datum.c=='f'"},{"aggregate":[{"op":"min","field":"v","as":"lo"},{"op":"max","field":"v","as":"hi"}],"groupby":["s","d"]}],
 "mark":{"type":"bar","width":11,"color":"#fcc8dc","opacity":0.3},
 "encoding":{
  "x":{"field":"d","type":"quantitative","scale":{"type":"log","domain":[0.1,20]},
   "axis":{"title":"Duration (h)","values":[0.1,0.1667,0.2,0.3,0.3333,0.4,0.5,0.6,0.7,0.8,0.9,1,2,3,4,5,6,7,8,9,10,12,20],
   "labelExpr":"datum.value==0.1667?'1/6':datum.value==0.3333?'1/3':datum.value==0.5?'1/2':(datum.value==1||datum.value==2||datum.value==3||datum.value==6||datum.value==12)?datum.value+'':''",
   "titleFontSize":6.5}},
  "y":{"field":"lo","type":"quantitative","scale":{"type":"log","domain":[0.01,1000]},
   "axis":{"title":"Maximum Intensity (mm/h)","values":[0.01,0.02,0.03,0.04,0.05,0.06,0.07,0.08,0.09,0.1,0.2,0.3,0.4,0.5,0.6,0.7,0.8,0.9,1,2,3,4,5,6,7,8,9,10,20,30,40,50,60,70,80,90,100,200,300,400,500,600,700,800,900,1000],
   "labelExpr":"datum.value==0.01?'0.01':datum.value==0.1?'0.1':datum.value==1?'1':datum.value==10?'10':datum.value==100?'100':datum.value==1000?'1000':''",
   "titleFontSize":7}},
  "y2":{"field":"hi"}
 }},
{"transform":[{"filter":"datum.c=='f'||datum.c=='n'"}],
 "mark":{"type":"point","filled":true,"size":5,"opacity":1},
 "encoding":{
  "x":{"field":"d","type":"quantitative","scale":{"type":"log","domain":[0.1,20]}},
  "y":{"field":"v","type":"quantitative","scale":{"type":"log","domain":[0.01,1000]}},
  "color":{"field":"c","type":"nominal","scale":{"domain":["f","n","lo","up"],"range":["#b0581c","#3a2ad6","#9edc94","#f4a08a"]},
   "legend":{"title":null,"labelExpr":"datum.label=='f'?'flood':datum.label=='n'?'no flood':datum.label=='lo'?'lower limit':'upper limit'"}},
  "shape":{"field":"c","type":"nominal","scale":{"domain":["f","n","lo","up"],"range":["circle","circle","stroke","stroke"]},
   "legend":{"title":null,"labelExpr":"datum.label=='f'?'flood':datum.label=='n'?'no flood':datum.label=='lo'?'lower limit':'upper limit'"}},
  "order":{"field":"c","sort":"descending"}
 }},
{"transform":[{"filter":"datum.c=='lo'||datum.c=='up'"}],
 "mark":{"type":"line","strokeWidth":1.3,"opacity":0.85},
 "encoding":{
  "x":{"field":"d","type":"quantitative","scale":{"type":"log","domain":[0.1,20]}},
  "y":{"field":"v","type":"quantitative","scale":{"type":"log","domain":[0.01,1000]}},
  "color":{"field":"c","type":"nominal","scale":{"domain":["f","n","lo","up"],"range":["#b0581c","#3a2ad6","#9edc94","#f4a08a"]},
   "legend":{"title":null,"labelExpr":"datum.label=='f'?'flood':datum.label=='n'?'no flood':datum.label=='lo'?'lower limit':'upper limit'"}}
 }}
]},
"config":{
 "font":"Liberation Serif",
 "view":{"stroke":"#9a9a9a","strokeWidth":0.6},
 "axis":{"labelFontSize":3.6,"labelColor":"#333","titleColor":"#222","titleFontWeight":"normal","gridColor":"#ececec","gridWidth":0.5,"domainColor":"#777","domainWidth":0.6,"ticks":false,"labelPadding":1.5,"titlePadding":1,"labelOverlap":false,"labelFlush":false,"labelBound":false},
 "legend":{"orient":"top-right","offset":3,"fillColor":"white","strokeColor":"#999","padding":2,"labelFontSize":3.6,"symbolSize":7,"rowPadding":0.3,"labelOffset":2,"symbolStrokeWidth":1.2,"columnPadding":2},
 "header":{"labelFontSize":8,"labelFontWeight":"bold","labelPadding":1.5,"labelFont":"Liberation Serif","labelColor":"#111"}
}
}
